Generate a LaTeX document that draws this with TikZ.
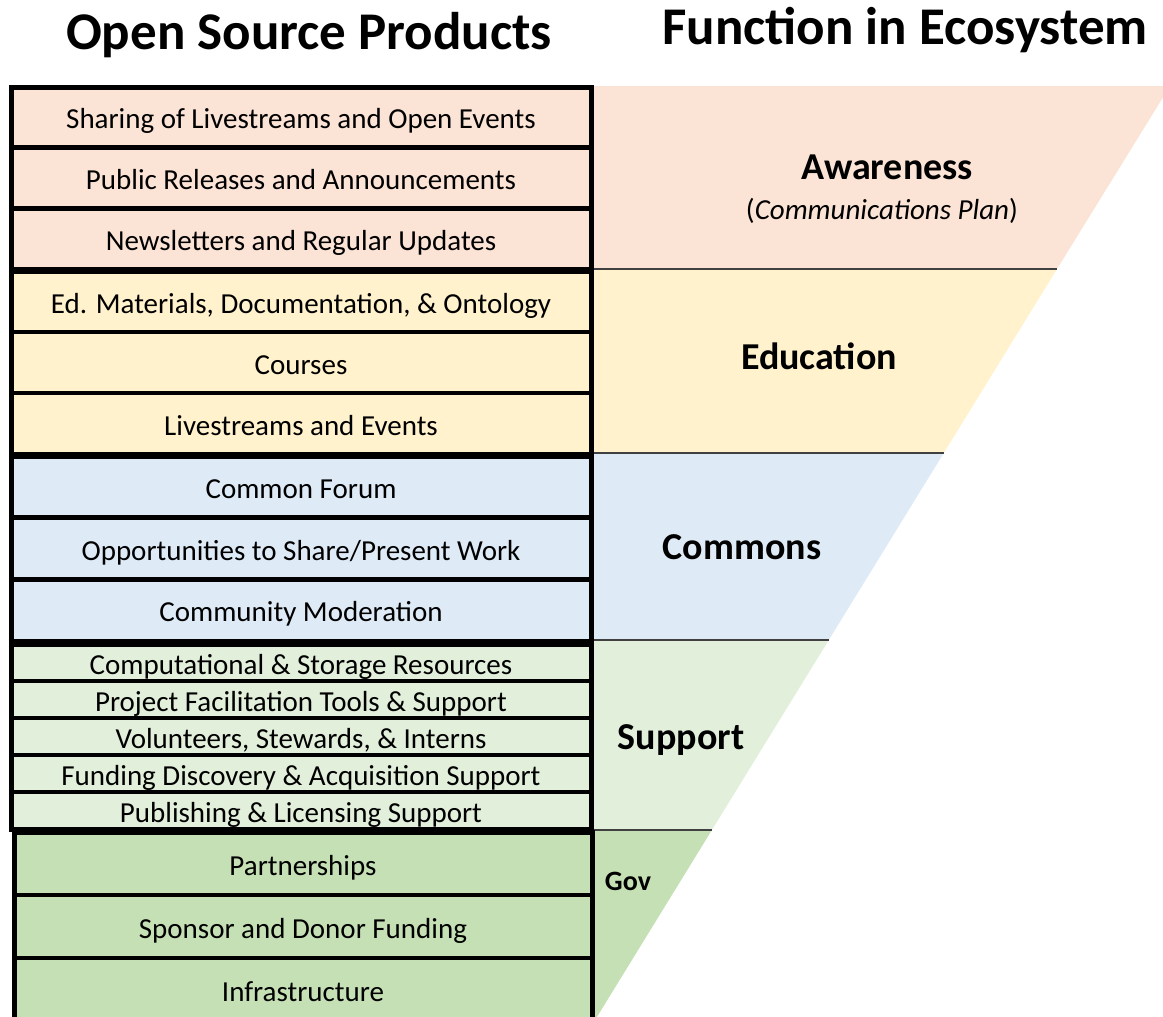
\documentclass[tikz,border=0pt]{standalone}
\usepackage{fontspec}
\setmainfont{Carlito}
\begin{document}
\begin{tikzpicture}[x=1pt,y=-1pt]
\definecolor{awfill}{HTML}{FBE3D5}
\definecolor{edfill}{HTML}{FFF2CC}
\definecolor{cofill}{HTML}{DEEBF7}
\definecolor{sufill}{HTML}{E2EFDA}
\definecolor{gofill}{HTML}{C5E0B4}
\definecolor{inkline}{HTML}{404040}
\tikzset{
  item/.style={draw=black, line width=3pt, fill=#1, minimum width=580pt,
    inner sep=0pt, text height=25pt, text depth=2pt,
    font=\fontsize{29}{34}\selectfont},
  groupframe/.style={draw=black, line width=5pt},
  divider/.style={draw=inkline, line width=1.8pt},
  tierlabel/.style={font=\bfseries\fontsize{38}{44}\selectfont, inner sep=0pt},
  headline/.style={font=\bfseries\fontsize{53}{60}\selectfont, inner sep=0pt}
}
\useasboundingbox (0,0) rectangle (1163,1017);
\begin{scope}
\clip (0,0) rectangle (1163,1017);

% ecosystem funnel bands
\fill[awfill] (592,86) -- (1170,86) -- (1057,269) -- (592,269) -- cycle;
\fill[edfill] (592,269) -- (1057,269) -- (943.8,453) -- (592,453) -- cycle;
\fill[cofill] (592,453) -- (943.8,453) -- (828.8,640) -- (592,640) -- cycle;
\fill[sufill] (592,640) -- (828.8,640) -- (711.9,830) -- (592,830) -- cycle;
\fill[gofill] (592,830) -- (711.9,830) -- (596.9,1017) -- (592,1017) -- cycle;

\coordinate (d1a) at (592,269); \coordinate (d1b) at (1057,269);
\coordinate (d2a) at (592,453); \coordinate (d2b) at (943.8,453);
\coordinate (d3a) at (592,640); \coordinate (d3b) at (828.8,640);
\coordinate (d4a) at (592,830); \coordinate (d4b) at (711.9,830);
\draw[divider] (d1a) -- (d1b);
\draw[divider] (d2a) -- (d2b);
\draw[divider] (d3a) -- (d3b);
\draw[divider] (d4a) -- (d4b);

% awareness products
\node[item=awfill, minimum height=59pt] (aw1) at (301,117.3) {Sharing of Livestreams and Open Events};
\node[item=awfill, minimum height=59pt] (aw2) at (301,178) {Public Releases and Announcements};
\node[item=awfill, minimum height=59pt] (aw3) at (301,238.7) {Newsletters and Regular Updates};
\draw[groupframe] (11,87) rectangle (591,269);

% education products
\node[item=edfill, minimum height=59.5pt] (ed1) at (301,301.5) {Ed. Materials, Documentation, \& Ontology};
\node[item=edfill, minimum height=59.5pt] (ed2) at (301,362.5) {Courses};
\node[item=edfill, minimum height=59.5pt] (ed3) at (301,423.5) {Livestreams and Events};
\draw[groupframe] (11,271) rectangle (591,454);

% commons products
\node[item=cofill, minimum height=60pt] (co1) at (301,486.8) {Common Forum};
\node[item=cofill, minimum height=60pt] (co2) at (301,548.5) {Opportunities to Share/Present Work};
\node[item=cofill, minimum height=60pt] (co3) at (301,610.2) {Community Moderation};
\draw[groupframe] (11,456) rectangle (591,641);

% support products
\node[item=sufill, minimum height=35.5pt] (su1) at (301,662.5) {Computational \& Storage Resources};
\node[item=sufill, minimum height=35.5pt] (su2) at (301,699.5) {Project Facilitation Tools \& Support};
\node[item=sufill, minimum height=35.5pt] (su3) at (301,736.5) {Volunteers, Stewards, \& Interns};
\node[item=sufill, minimum height=35.5pt] (su4) at (301,773.5) {Funding Discovery \& Acquisition Support};
\node[item=sufill, minimum height=35.5pt] (su5) at (301,810.5) {Publishing \& Licensing Support};
\draw[groupframe] (11,644) rectangle (591,829);

% governance products
\node[item=gofill, minimum width=578pt, minimum height=61.5pt] (go1) at (303,863.5) {Partnerships};
\node[item=gofill, minimum width=578pt, minimum height=61.5pt] (go2) at (303,926.5) {Sponsor and Donor Funding};
\node[item=gofill, minimum width=578pt, minimum height=61.5pt] (go3) at (303,989.5) {Infrastructure};
\draw[groupframe] (14,832) rectangle (592,1030);
\end{scope}

% tier labels
\node[tierlabel] (awl) at (887,167) {Awareness};
\node[inner sep=0pt, font=\fontsize{29}{34}\selectfont] (awp) at (882,211) {(\textit{Communications Plan})};
\node[tierlabel] (edl) at (819,356) {Education};
\node[tierlabel] (col) at (742,547) {Commons};
\node[tierlabel] (sul) at (681,740) {Support};
\node[font=\bfseries\fontsize{28}{32}\selectfont, inner sep=0pt] (gol) at (628,881) {Gov};

% column headings
\node[headline] (hl) at (309,35) {Open Source Products};
\node[headline] (hr) at (905,30) {Function in Ecosystem};
\end{tikzpicture}
\end{document}
